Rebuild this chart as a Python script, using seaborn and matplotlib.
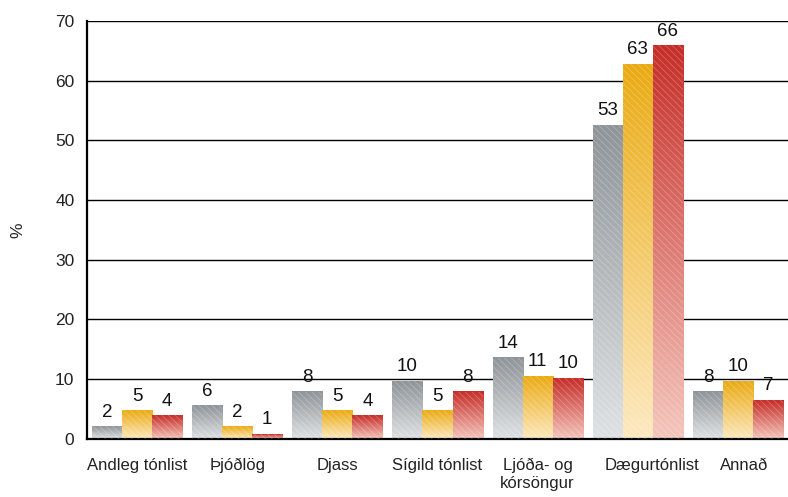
import numpy as np
import pandas as pd
import seaborn as sns
import matplotlib.pyplot as plt
from matplotlib.colors import LinearSegmentedColormap
from matplotlib.patches import Rectangle
from matplotlib.transforms import ScaledTranslation

# gögn lesin af myndinni
categories = ['Andleg tónlist', 'Þjóðlög', 'Djass', 'Sígild tónlist',
              'Ljóða- og\nkórsöngur', 'Dægurtónlist', 'Annað']
series = ['Röð 1', 'Röð 2', 'Röð 3']
gray_vals = [2.1, 5.6, 7.9, 9.7, 13.6, 52.6, 7.9]
yellow_vals = [4.8, 2.1, 4.8, 4.8, 10.5, 62.8, 9.7]
red_vals = [3.9, 0.8, 3.9, 7.9, 10.2, 65.9, 6.5]
gray_labels = [2, 6, 8, 10, 14, 53, 8]
yellow_labels = [5, 2, 5, 5, 11, 63, 10]
red_labels = [4, 1, 4, 8, 10, 66, 7]
y_ticks = [0, 10, 20, 30, 40, 50, 60, 70]

df = pd.DataFrame({
    'flokkur': categories * 3,
    'röð': [series[0]] * 7 + [series[1]] * 7 + [series[2]] * 7,
    'hlutfall': gray_vals + yellow_vals + red_vals,
})
labels = [gray_labels, yellow_labels, red_labels]

# litir: (neðst ljóst, efst dökkt)
grads = [('#dfe2e4', '#8e9498'),
         ('#fde9c0', '#eaaa12'),
         ('#f4c6bc', '#c62d28')]

sns.set_style('white')
plt.rcParams['font.family'] = ['Liberation Sans', 'DejaVu Sans']
plt.rcParams['hatch.linewidth'] = 0.6

fig = plt.figure(figsize=(7.88, 4.97), dpi=100)
ax = fig.add_axes([0.1104, 0.1173, 0.8896, 0.8404])

sns.barplot(data=df, x='flokkur', y='hlutfall', hue='röð', order=categories,
            hue_order=series, palette=[g[1] for g in grads], width=0.9, gap=0,
            legend=False, ax=ax, zorder=2)

g_arr = np.linspace(0, 1, 256).reshape(-1, 1)
for cont, (lo, hi), labs in zip(ax.containers, grads, labels):
    cmap = LinearSegmentedColormap.from_list('g', [lo, hi])
    for bar, lab in zip(cont, labs):
        x0, w, h = bar.get_x(), bar.get_width(), bar.get_height()
        bar.set_facecolor('none')
        bar.set_edgecolor('none')
        ax.imshow(g_arr, extent=[x0, x0 + w, 0, h], origin='lower', cmap=cmap,
                  aspect='auto', zorder=2, interpolation='bilinear')
        ax.add_patch(Rectangle((x0, 0), w, h, fill=False, hatch='\\\\\\\\\\',
                               edgecolor=(1, 1, 1, 0.25), lw=0, zorder=3))
        ax.annotate(str(lab), (x0 + w / 2, h), xytext=(0, 4),
                    textcoords='offset points', ha='center', va='bottom',
                    fontsize=13.5, color='#111111')

ax.set_xlim(-0.5, 6.43)
ax.set_ylim(0, 70)
ax.set_yticks(y_ticks)
ax.yaxis.grid(True, color='black', lw=1)
ax.set_axisbelow(True)

ax.set_xticks(np.arange(-0.5, 7, 1))
ax.set_xticklabels([])
ax.set_xticks(np.arange(7), minor=True)
ax.set_xticklabels(categories, minor=True, va='top', fontsize=12, color='#222222')
ax.tick_params(axis='x', which='major', length=6, width=1.3, color='black', direction='out')
ax.tick_params(axis='x', which='minor', length=0, pad=14)
ax.tick_params(axis='y', length=7, width=1, color='black', direction='out', pad=2,
               labelsize=12.5, labelcolor='#222222')

# smá hliðrun á merkjum eins og í frumriti
shifts = [0, 0, 0, 0, 0, 14, 6]
for lbl, dx in zip(ax.get_xticklabels(minor=True), shifts):
    lbl.set_linespacing(1.25)
    if dx:
        lbl.set_transform(lbl.get_transform() + ScaledTranslation(dx / 100, 0, fig.dpi_scale_trans))

for s in ['top', 'right']:
    ax.spines[s].set_visible(False)
for s in ['left', 'bottom']:
    ax.spines[s].set_color('black')
    ax.spines[s].set_linewidth(1.6)

ax.set_xlabel('')
ax.set_ylabel('%', fontsize=12.5, color='#222222')
ax.yaxis.set_label_coords(-0.088, 0.5)

fig.savefig('out.png', dpi=100)
